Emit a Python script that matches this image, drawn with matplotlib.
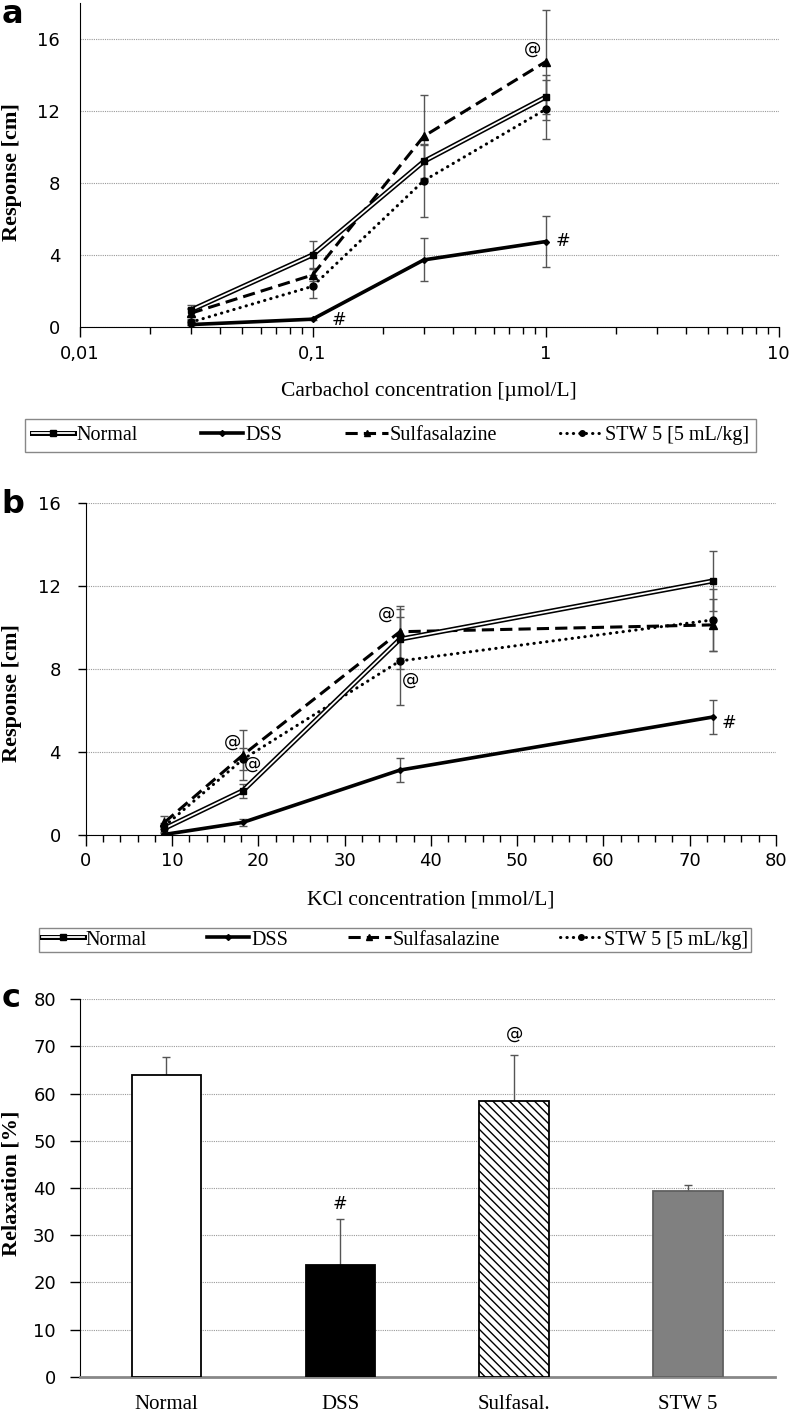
import matplotlib
matplotlib.use("Agg")
import matplotlib.pyplot as plt
from matplotlib.lines import Line2D
from matplotlib.ticker import FixedLocator, NullFormatter, LogLocator

# ---- panel a: carbachol (umol/L) ----
conc_a = [0.03, 0.1, 0.3, 1]
normal_a = [0.92, 4.0, 9.2, 12.78]
normal_a_err = [0.3, 0.75, 1.0, 1.25]
dss_a = [0.12, 0.42, 3.72, 4.74]
dss_a_err = [0.05, 0.05, 1.2, 1.44]
sulfa_a = [0.75, 2.88, 10.6, 14.75]
sulfa_a_err = [0.3, 0.35, 2.3, 2.9]
stw_a = [0.25, 2.25, 8.13, 12.1]
stw_a_err = [0.15, 0.65, 2.0, 1.65]
marks_a = [("@", 0.88, 15.5), ("#", 0.13, 0.4), ("#", 1.19, 4.75)]

# ---- panel b: KCl (mmol/L) ----
conc_b = [9.1, 18.2, 36.4, 72.7]
normal_b = [0.32, 2.14, 9.44, 12.25]
normal_b_err = [0.15, 0.34, 1.46, 1.46]
dss_b = [0.03, 0.61, 3.13, 5.69]
dss_b_err = [0.05, 0.15, 0.59, 0.8]
sulfa_b = [0.61, 3.86, 9.8, 10.13]
sulfa_b_err = [0.32, 1.2, 1.26, 1.25]
stw_b = [0.43, 3.65, 8.39, 10.37]
stw_b_err = [0.15, 0.53, 2.1, 1.5]
marks_b = [("@", 17.0, 4.5), ("@", 19.3, 3.46), ("@", 34.8, 10.66),
           ("@", 37.6, 7.5), ("#", 74.6, 5.39)]

# ---- panel c: relaxation ----
groups = ["Normal", "DSS", "Sulfasal.", "STW 5"]
relax = [64.0, 23.6, 58.4, 39.3]
relax_err = [3.8, 9.8, 9.7, 1.4]
marks_c = [("#", 1, 36.7), ("@", 2, 72.6)]

legend_labels = ["Normal", "DSS", "Sulfasalazine", "STW 5 [5 mL/kg]"]

SANS = ["DejaVu Sans"]
SERIF = ["Liberation Serif", "DejaVu Serif"]
plt.rcParams["font.family"] = SANS
plt.rcParams["hatch.linewidth"] = 1.0
ERR_COL = "#555555"
GRID_COL = "#9a9a9a"
TICK_FS = 13
MARK_FS = 12.5
CAP = 3

fig = plt.figure(figsize=(7.93, 14.12), dpi=100)


def draw_lines(ax, x, series):
    (n, ne), (d, de), (s, se), (w, we) = series
    ekw = dict(fmt="none", ecolor=ERR_COL, elinewidth=1, capsize=CAP, capthick=1, zorder=2)
    for y, e in ((n, ne), (d, de), (s, se), (w, we)):
        ax.errorbar(x, y, yerr=e, **ekw)
    ax.plot(x, w, color="k", lw=2.2, ls=(0, (0.1, 2.0)), dash_capstyle="round",
            marker="o", ms=5, zorder=3)
    ax.plot(x, s, color="k", lw=2.2, dashes=(4, 2), marker="^", ms=6, zorder=3)
    ax.plot(x, n, color="k", lw=3.6, zorder=4)
    ax.plot(x, n, color="w", lw=1.3, zorder=4)
    ax.plot(x, n, ls="none", marker="s", color="k", ms=5, zorder=5)
    ax.plot(x, d, color="k", lw=2.6, marker="D", ms=3, zorder=5)


def legend_handles():
    h_n = (Line2D([], [], color="k", lw=3.6), Line2D([], [], color="w", lw=1.3),
           Line2D([], [], ls="none", marker="s", color="k", ms=5))
    h_d = Line2D([], [], color="k", lw=2.6, marker="D", ms=3)
    h_s = Line2D([], [], color="k", lw=2.2, dashes=(4, 2), marker="^", ms=5)
    h_w = Line2D([], [], color="k", lw=2.2, ls=(0, (0.1, 2.0)), dash_capstyle="round",
                 marker="o", ms=4)
    return [h_n, h_d, h_s, h_w]


def add_legend(ax, box, pad):
    ax.legend(legend_handles(), legend_labels, loc="center",
              bbox_to_anchor=box, bbox_transform=fig.transFigure,
              mode="expand", ncol=4, fancybox=False, edgecolor="#888888", framealpha=1,
              handlelength=2.1, handletextpad=0.1, borderaxespad=0, borderpad=pad,
              prop={"family": SERIF, "size": 14.5})


def style_line_axes(ax, ylab_x, ylab_y):
    for sp in ("top", "right"):
        ax.spines[sp].set_visible(False)
    ax.set_yticks([0, 4, 8, 12, 16])
    ax.yaxis.grid(True, ls=(0, (1, 1)), color=GRID_COL, lw=0.8)
    ax.set_axisbelow(True)
    for lab in ax.get_xticklabels() + ax.get_yticklabels():
        lab.set_fontsize(TICK_FS)
    ax.set_ylabel("Response [cm]", fontsize=16, fontweight="bold", family=SERIF)
    ax.yaxis.set_label_coords(ylab_x, ylab_y)


# ---------------- panel a ----------------
ax_a = fig.add_axes([0.1003, 0.7686, 0.8815, 0.229])
draw_lines(ax_a, conc_a, [(normal_a, normal_a_err), (dss_a, dss_a_err),
                          (sulfa_a, sulfa_a_err), (stw_a, stw_a_err)])
ax_a.set_xscale("log")
ax_a.set_xlim(0.01, 10)
ax_a.set_ylim(0, 18)
ax_a.xaxis.set_major_locator(FixedLocator([0.01, 0.1, 1, 10]))
ax_a.xaxis.set_minor_locator(LogLocator(base=10, subs=range(2, 10)))
ax_a.xaxis.set_minor_formatter(NullFormatter())
ax_a.set_xticklabels(["0,01", "0,1", "1", "10"])
ax_a.tick_params(axis="x", which="major", length=7, width=1, pad=6)
ax_a.tick_params(axis="x", which="minor", length=5, width=1)
ax_a.tick_params(axis="y", length=0, pad=14)
style_line_axes(ax_a, -0.082, 0.478)
ax_a.set_xlabel("Carbachol concentration [µmol/L]", fontsize=15.5, family=SERIF, labelpad=14)
for t, x, y in marks_a:
    ax_a.text(x, y, t, fontsize=MARK_FS, ha="center", va="center")
add_legend(ax_a, (0.0315, 0.6785, 0.9218, 0.0262), 0.35)
fig.text(0.002, 0.9837, "a", fontsize=23, fontweight="bold", ha="left", va="baseline")

# ---------------- panel b ----------------
ax_b = fig.add_axes([0.1084, 0.4086, 0.870, 0.2351])
draw_lines(ax_b, conc_b, [(normal_b, normal_b_err), (dss_b, dss_b_err),
                          (sulfa_b, sulfa_b_err), (stw_b, stw_b_err)])
ax_b.set_xlim(0, 80)
ax_b.set_ylim(0, 16)
ax_b.set_xticks(range(0, 81, 10))
ax_b.set_xticks(range(0, 81, 2), minor=True)
ax_b.tick_params(axis="x", which="major", length=8, width=1, pad=4)
ax_b.tick_params(axis="x", which="minor", length=5, width=1)
ax_b.tick_params(axis="y", length=6, width=1, pad=12)
style_line_axes(ax_b, -0.0928, 0.428)
ax_b.set_xlabel("KCl concentration [mmol/L]", fontsize=15.5, family=SERIF, labelpad=15)
for t, x, y in marks_b:
    ax_b.text(x, y, t, fontsize=MARK_FS, ha="center", va="center")
add_legend(ax_b, (0.0498, 0.3251, 0.8967, 0.0184), 0.1)
fig.text(0.002, 0.6367, "b", fontsize=23, fontweight="bold", ha="left", va="baseline")

# ---------------- panel c ----------------
ax_c = fig.add_axes([0.1003, 0.025, 0.877, 0.2673])
xpos = list(range(len(groups)))
faces = ["white", "black", "white", "#808080"]
edges = ["black", "black", "black", "#606060"]
hatches = [None, None, "\\\\\\\\", None]
for i in xpos:
    ax_c.bar(i, relax[i], width=0.4, color=faces[i], edgecolor=edges[i],
             hatch=hatches[i], lw=1.3, zorder=3)
ax_c.errorbar(xpos, relax, yerr=[[0] * len(relax), relax_err], fmt="none",
              ecolor=ERR_COL, elinewidth=1, capsize=CAP, capthick=1, zorder=2)
ax_c.set_xlim(-0.5, 3.5)
ax_c.set_ylim(0, 80)
ax_c.set_yticks(range(0, 81, 10))
ax_c.set_xticks(xpos)
ax_c.set_xticklabels(groups, family=SERIF, fontsize=15)
ax_c.tick_params(axis="x", length=0, pad=13)
ax_c.tick_params(axis="y", length=7, width=1, pad=10, labelsize=TICK_FS)
ax_c.yaxis.grid(True, ls=(0, (1, 1)), color=GRID_COL, lw=0.8)
ax_c.set_axisbelow(True)
for sp in ("top", "right"):
    ax_c.spines[sp].set_visible(False)
ax_c.spines["bottom"].set_color("#888888")
ax_c.spines["bottom"].set_linewidth(2)
ax_c.set_ylabel("Relaxation [%]", fontsize=16, fontweight="bold", family=SERIF)
ax_c.yaxis.set_label_coords(-0.083, 0.513)
for t, x, y in marks_c:
    ax_c.text(x, y, t, fontsize=MARK_FS, ha="center", va="center")
fig.text(0.002, 0.2868, "c", fontsize=23, fontweight="bold", ha="left", va="baseline")

fig.savefig("out.png", dpi=100)
